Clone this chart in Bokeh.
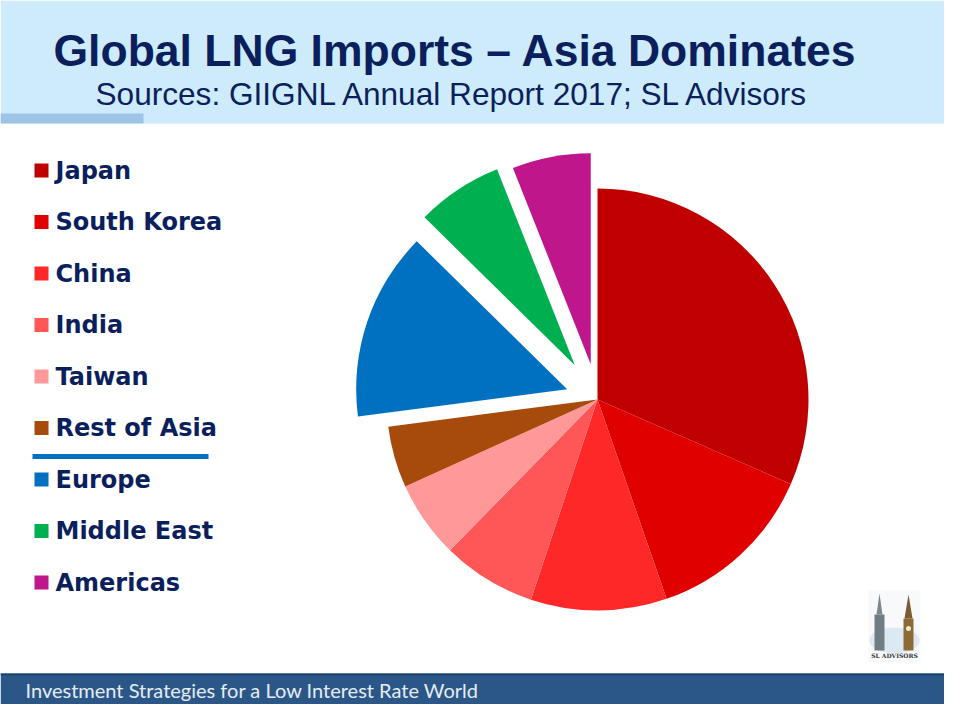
import math
from bokeh.plotting import figure
from bokeh.models import Range1d
from bokeh.core.properties import value
from bokeh.embed import file_html
from bokeh.resources import INLINE

# ---------------- data ----------------
regions = ["Japan", "South Korea", "China", "India", "Taiwan", "Rest of Asia",
           "Europe", "Middle East", "Americas"]
shares = [31.5, 13.1, 10.4, 7.2, 5.9, 4.7, 14.4, 6.6, 6.0]   # % of global LNG imports
colors = ["#C00000", "#E00000", "#FF2828", "#FF5757", "#FF9999", "#A64B0C",
          "#0070C0", "#00B050", "#C0168C"]
explode = [0, 0, 0, 0, 0, 0, 32, 41, 36]   # px offset of detached slices

title_text = "Global LNG Imports \u2013 Asia Dominates"
subtitle_text = "Sources: GIIGNL Annual Report 2017; SL Advisors"
footer_text = "Investment Strategies for a Low Interest Rate World"

W, H = 960, 720
NAVY = "#0B1F5C"


def Y(v):
    return H - v


p = figure(width=944, height=704, x_range=Range1d(0, 944), y_range=Range1d(16, 720),
           output_backend="svg", toolbar_location=None, min_border=0)
p.axis.visible = False
p.grid.visible = False
p.outline_line_color = None
p.background_fill_color = "white"
p.border_fill_color = "white"

# header band
p.quad(left=[0], right=[W], top=[Y(0)], bottom=[Y(123)], fill_color="#CDEBFA", line_color=None)
p.quad(left=[0], right=[143], top=[Y(113)], bottom=[Y(123)], fill_color="#9DC3E6", line_color=None)
p.text(x=[53], y=[Y(50)], text=[title_text], text_font=value("Liberation Sans"),
       text_font_style="bold", text_font_size="44.5px", text_color=NAVY,
       text_baseline="middle", text_align="left")
p.text(x=[95], y=[Y(93)], text=[subtitle_text], text_font=value("Liberation Sans"),
       text_font_size="31.6px", text_color=NAVY, text_baseline="middle", text_align="left")

# footer band
p.quad(left=[0], right=[W], top=[Y(673)], bottom=[Y(H)], fill_color="#2B5788", line_color=None)
p.quad(left=[0], right=[W], top=[Y(673)], bottom=[Y(675)], fill_color="#1F4470", line_color=None)
p.text(x=[25], y=[Y(689)], text=[footer_text], text_font=value("Lato"),
       text_font_size="20px", text_color="#E6ECF4", text_baseline="middle", text_align="left")

# pie
CX, CY, R = 597, Y(399), 211
total = sum(shares)
cum = 0.0
xs, ys, a0s, a1s = [], [], [], []
for s, e in zip(shares, explode):
    a0 = math.radians(90 - 360 * cum / total)
    cum += s
    a1 = math.radians(90 - 360 * cum / total)
    mid = (a0 + a1) / 2
    xs.append(CX + e * math.cos(mid))
    ys.append(CY + e * math.sin(mid))
    a0s.append(a0)
    a1s.append(a1)
p.wedge(x=xs, y=ys, radius=R, start_angle=a0s, end_angle=a1s, direction="clock",
        fill_color=colors, line_color=None)

# legend
ly = [Y(170 + i * 51.5) for i in range(len(regions))]
p.rect(x=[41] * len(regions), y=ly, width=14, height=14, fill_color=colors, line_color=None)
p.text(x=[55] * len(regions), y=ly, text=regions, text_font=value("DejaVu Sans"),
       text_font_style="bold", text_font_size="24px", text_color=NAVY,
       text_baseline="middle", text_align="left")
p.line(x=[32, 208], y=[Y(456), Y(456)], line_color="#0070C0", line_width=5)

# small logo
p.quad(left=[868], right=[920], top=[Y(590)], bottom=[Y(662)], fill_color="#F7F9FB", line_color=None)
p.ellipse(x=[894], y=[Y(640)], width=50, height=26, fill_color="#DCE8F2", line_color=None)
p.quad(left=[874], right=[884], top=[Y(614)], bottom=[Y(650)], fill_color="#6F7C82", line_color=None)
p.patch(x=[876, 879, 882], y=[Y(614), Y(593), Y(614)], fill_color="#7D878C", line_color=None)
p.quad(left=[903], right=[913], top=[Y(618)], bottom=[Y(650)], fill_color="#8C6A36", line_color=None)
p.patch(x=[904, 908, 912], y=[Y(618), Y(594), Y(618)], fill_color="#7A5C30", line_color=None)
p.scatter(x=[908], y=[Y(628)], size=5, fill_color="#F2EAD0", line_color=None)
p.text(x=[894], y=[Y(655)], text=["SL ADVISORS"], text_font=value("DejaVu Serif"),
       text_font_style="bold", text_font_size="6px", text_color="#333333",
       text_baseline="middle", text_align="center")

open("out.html", "w").write(file_html(p, INLINE))
